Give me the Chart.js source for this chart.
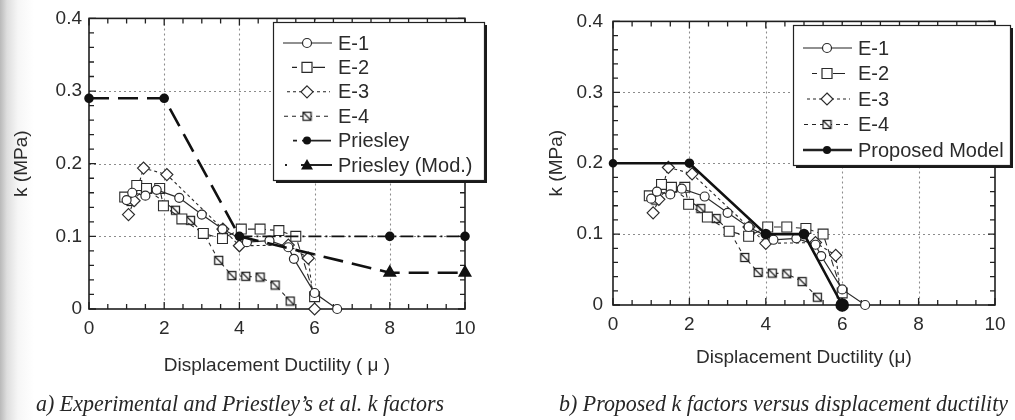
<!DOCTYPE html>
<html><head><meta charset="utf-8">
<script src="https://cdn.jsdelivr.net/npm/chart.js@4.4.1/dist/chart.umd.min.js"></script>
<style>
html,body{margin:0;padding:0;width:1015px;height:420px;overflow:hidden;}
body{background:linear-gradient(to right,#b9b9b9 0px,#dedede 7px,#f6f6f6 18px,#ffffff 34px);position:relative;}
#a{position:absolute;left:0;top:0;}
#b{position:absolute;left:510px;top:0;}
.cap{position:absolute;top:389px;font-family:"Liberation Serif","Times New Roman",serif;font-style:italic;font-size:24px;line-height:28px;color:#262626;white-space:nowrap;transform-origin:left top;}
</style></head><body>
<canvas id="a" width="510" height="420"></canvas>
<canvas id="b" width="505" height="420"></canvas>
<div class="cap" id="capA" style="left:36px;">a) Experimental and Priestley’s et al. k factors</div>
<div class="cap" id="capB" style="left:559px;">b) Proposed k factors versus displacement ductility</div>
<script>
// ---------- data ----------
const mu_E1 = [1.0, 1.15, 1.5, 1.8, 2.4, 3.0, 3.55, 4.2, 4.8, 5.3, 5.45, 6.0, 6.6];
const k_E1  = [0.150, 0.160, 0.156, 0.164, 0.153, 0.130, 0.110, 0.092, 0.094, 0.085, 0.069, 0.022, 0.0];
const mu_E2 = [0.95, 1.27, 1.53, 1.88, 1.98, 2.47, 3.04, 3.55, 4.05, 4.55, 5.05, 5.5, 6.0];
const k_E2  = [0.154, 0.170, 0.166, 0.166, 0.142, 0.124, 0.104, 0.097, 0.110, 0.110, 0.108, 0.100, 0.017];
const mu_E3 = [1.05, 1.2, 1.45, 2.07, 3.56, 4.0, 5.3, 5.83, 6.0];
const k_E3  = [0.130, 0.149, 0.194, 0.185, 0.110, 0.087, 0.088, 0.070, 0.0];
const mu_E4 = [1.12, 1.5, 2.3, 2.7, 3.05, 3.45, 3.8, 4.17, 4.55, 4.95, 5.35];
const k_E4  = [0.148, 0.166, 0.136, 0.122, 0.104, 0.067, 0.046, 0.045, 0.044, 0.033, 0.011];
const mu_Pr = [0, 2, 4, 8, 10];
const k_Pr  = [0.29, 0.29, 0.10, 0.10, 0.10];
const mu_PrMod = [0, 2, 4, 8, 10];
const k_PrMod  = [0.29, 0.29, 0.10, 0.05, 0.05];
const mu_Prop = [0, 2, 4, 5, 6];
const k_Prop  = [0.20, 0.20, 0.10, 0.10, 0.0];

const xTickValues = [0, 2, 4, 6, 8, 10];
const xTickLabels = ['0', '2', '4', '6', '8', '10'];
const yTickValues = [0, 0.1, 0.2, 0.3, 0.4];
const yTickLabels = ['0', '0.1', '0.2', '0.3', '0.4'];
const xGridValues = [2, 4, 6, 8];
const yGridValues = [0.1, 0.2, 0.3];

const labelsA = ['E-1', 'E-2', 'E-3', 'E-4', 'Priesley', 'Priesley (Mod.)'];
const labelsB = ['E-1', 'E-2', 'E-3', 'E-4', 'Proposed Model'];
const xTitleA = 'Displacement Ductility ( μ )';
const xTitleB = 'Displacement Ductility (μ)';
const yTitle = 'k (MPa)';

// ---------- styling ----------
const INK = '#2b2b2b';
const SANS = '"Liberation Sans", Arial, Helvetica, sans-serif';
Chart.defaults.font.family = SANS;
Chart.defaults.color = INK;

function hatchImage(){
  const c = document.createElement('canvas'); c.width = 11; c.height = 11;
  const g = c.getContext('2d');
  g.fillStyle = '#fff'; g.fillRect(1,1,9,9);
  g.strokeStyle = '#222'; g.lineWidth = 1.3;
  g.strokeRect(1.5,1.5,8,8);
  g.beginPath(); g.moveTo(2,2); g.lineTo(9,9); g.stroke();
  return c;
}
const HATCH = hatchImage();

const pts = (xs, ys) => xs.map((x, i) => ({x, y: ys[i]}));

function expDatasets(){
  return [
    {label:'E-1', data:pts(mu_E1,k_E1), borderColor:INK, borderWidth:1.2, pointStyle:'circle', pointRadius:4.5,
     pointBackgroundColor:'#fff', pointBorderColor:INK, pointBorderWidth:1.2},
    {label:'E-2', data:pts(mu_E2,k_E2), borderColor:INK, borderWidth:1.1, borderDash:[7,4], pointStyle:'rect', pointRadius:7,
     pointBackgroundColor:'#fff', pointBorderColor:INK, pointBorderWidth:1.1},
    {label:'E-3', data:pts(mu_E3,k_E3), borderColor:INK, borderWidth:1.1, borderDash:[3,3], pointStyle:'rectRot', pointRadius:6,
     pointBackgroundColor:'#fff', pointBorderColor:INK, pointBorderWidth:1.2},
    {label:'E-4', data:pts(mu_E4,k_E4), borderColor:INK, borderWidth:1.1, borderDash:[4,4], pointStyle:HATCH, pointRadius:5,
     pointBackgroundColor:'#fff', pointBorderColor:INK},
  ];
}

const dsA = expDatasets().concat([
  {label:'Priesley', data:pts(mu_Pr,k_Pr), borderColor:'#111', borderWidth:1.6, borderDash:[13,4,2,4], order:-1,
   segment:{borderColor: c => c.p0DataIndex < 2 ? 'rgba(0,0,0,0)' : '#111'},
   pointStyle:'circle', pointRadius:4, pointBackgroundColor:'#111', pointBorderColor:'#111'},
  {label:'Priesley (Mod.)', data:pts(mu_PrMod,k_PrMod), borderColor:'#111', borderWidth:2.6, borderDash:[20,9], order:-1,
   pointStyle:'triangle', pointRadius:[0,0,0,5.5,5.5], pointBackgroundColor:'#111', pointBorderColor:'#111'}
]);
const dsB = expDatasets().concat([
  {label:'Proposed Model', data:pts(mu_Prop,k_Prop), borderColor:'#111', borderWidth:2.6, order:-1,
   pointStyle:'circle', pointRadius:[3,3.5,4,4,5.5], pointBackgroundColor:'#111', pointBorderColor:'#111'}
]);
[dsA, dsB].forEach(a => a.forEach(d => { d.showLine = true; d.clip = false; d.fill = false; }));

// legend sample styles
const legendStyle = {
  'E-1': {dash:[], w:1.2, marker:'circle', fill:'#fff', x0:0, x1:49},
  'E-2': {dash:[5,16,12,100], w:1.1, marker:'rect', fill:'#fff', x0:9, x1:43},
  'E-3': {dash:[3,3], w:1.1, marker:'diamond', fill:'#fff', x0:4, x1:47},
  'E-4': {dash:[4,4], w:1.1, marker:'hatch', fill:'#fff', x0:1, x1:47},
  'Priesley': {dash:[4,5,60,0], w:1.8, marker:'dot', fill:'#111', x0:10, x1:48},
  'Priesley (Mod.)': {dash:[2,14,60,0], w:2, marker:'triangle', fill:'#111', x0:2, x1:49},
  'Proposed Model': {dash:[], w:2.4, marker:'dot', fill:'#111', x0:0, x1:49},
};

function drawMarker(ctx, m, x, y, fill){
  ctx.save(); ctx.setLineDash([]); ctx.lineWidth = 1.2; ctx.strokeStyle = INK; ctx.fillStyle = fill;
  ctx.beginPath();
  if (m === 'circle') { ctx.arc(x, y, 4.5, 0, Math.PI*2); ctx.fill(); ctx.stroke(); }
  else if (m === 'rect') { ctx.rect(x-5, y-5, 10, 10); ctx.fill(); ctx.stroke(); }
  else if (m === 'diamond') { ctx.moveTo(x, y-6); ctx.lineTo(x+6, y); ctx.lineTo(x, y+6); ctx.lineTo(x-6, y); ctx.closePath(); ctx.fill(); ctx.stroke(); }
  else if (m === 'hatch') { ctx.drawImage(HATCH, x-5.5, y-5.5); }
  else if (m === 'dot') { ctx.fillStyle = '#111'; ctx.arc(x, y, 4, 0, Math.PI*2); ctx.fill(); }
  else if (m === 'triangle') { ctx.fillStyle = '#111'; ctx.moveTo(x, y-6); ctx.lineTo(x+6, y+4.5); ctx.lineTo(x-6, y+4.5); ctx.closePath(); ctx.fill(); }
  ctx.restore();
}

const framePlugin = {
  id: 'frame',
  beforeDatasetsDraw(chart) {
    const {ctx, chartArea: a, scales: {x, y}} = chart;
    ctx.save();
    ctx.strokeStyle = '#8c8c8c'; ctx.lineWidth = 1.1; ctx.setLineDash([2, 3]);
    xGridValues.forEach(v => { const p = Math.round(x.getPixelForValue(v)) + 0.5; ctx.beginPath(); ctx.moveTo(p, a.top); ctx.lineTo(p, a.bottom); ctx.stroke(); });
    yGridValues.forEach(v => { const p = Math.round(y.getPixelForValue(v)) + 0.5; ctx.beginPath(); ctx.moveTo(a.left, p); ctx.lineTo(a.right, p); ctx.stroke(); });
    ctx.setLineDash([]);
    ctx.strokeStyle = '#222'; ctx.lineWidth = 1.3;
    for (let i = 0; i <= 20; i++) {
      const v = i * 0.5, p = x.getPixelForValue(v), L = (i % 4 === 0) ? 7 : 5;
      ctx.beginPath(); ctx.moveTo(p, a.bottom); ctx.lineTo(p, a.bottom - L); ctx.moveTo(p, a.top); ctx.lineTo(p, a.top + L); ctx.stroke();
    }
    for (let i = 0; i <= 20; i++) {
      const v = i * 0.02, p = y.getPixelForValue(v), L = (i % 5 === 0) ? 7 : 5;
      ctx.beginPath(); ctx.moveTo(a.left, p); ctx.lineTo(a.left + L, p); ctx.moveTo(a.right, p); ctx.lineTo(a.right - L, p); ctx.stroke();
    }
    ctx.lineWidth = 1.6; ctx.strokeStyle = '#1e1e1e';
    ctx.strokeRect(a.left, a.top, a.right - a.left, a.bottom - a.top);
    ctx.restore();
  },
  afterDraw(chart) {
    const o = chart.options.plugins.boxLegend; if (!o) return;
    const {ctx} = chart;
    ctx.save();
    ctx.fillStyle = '#1a1a1a'; ctx.fillRect(o.left + 3, o.top + 3, o.width, o.height);
    ctx.fillStyle = '#fff'; ctx.fillRect(o.left, o.top, o.width, o.height);
    ctx.strokeStyle = '#222'; ctx.lineWidth = 1.2; ctx.strokeRect(o.left + 0.5, o.top + 0.5, o.width, o.height);
    ctx.font = '20px ' + SANS; ctx.textBaseline = 'middle'; ctx.fillStyle = INK;
    o.labels.forEach((lab, i) => {
      const st = legendStyle[lab], yy = o.top + o.first + i * o.step, bx = o.left + 10;
      ctx.save(); ctx.strokeStyle = '#222'; ctx.lineWidth = st.w; ctx.setLineDash(st.dash);
      ctx.beginPath(); ctx.moveTo(bx + st.x0, yy); ctx.lineTo(bx + st.x1, yy); ctx.stroke(); ctx.restore();
      drawMarker(ctx, st.marker, bx + 24, yy, st.fill);
      ctx.fillStyle = INK; ctx.fillText(lab, o.left + 65, yy + 1);
    });
    ctx.restore();
  }
};

function makeChart(id, datasets, opts){
  return new Chart(document.getElementById(id), {
    type: 'scatter',
    data: {datasets},
    plugins: [framePlugin],
    options: {
      responsive: false, animation: false, devicePixelRatio: 1,
      layout: {padding: {left: opts.padLeft, right: opts.padRight, top: opts.padTop, bottom: opts.padBottom}},
      plugins: {legend: {display: false}, tooltip: {enabled: false}, boxLegend: opts.legend},
      scales: {
        x: {type: 'linear', min: 0, max: 10,
            afterBuildTicks: s => { s.ticks = xTickValues.map(v => ({value: v})); },
            afterFit: s => { s.height = opts.xAxisH; },
            ticks: {callback: (v, i) => xTickLabels[i], font: {size: 19}, color: INK, padding: 8, maxRotation: 0, autoSkip: false},
            grid: {display: false, drawTicks: false}, border: {display: false},
            title: {display: true, text: opts.xTitle, font: {size: 19}, color: INK, padding: {top: 4, bottom: 4}}},
        y: {type: 'linear', min: 0, max: 0.4,
            afterBuildTicks: s => { s.ticks = yTickValues.map(v => ({value: v})); },
            afterFit: s => { s.width = opts.yAxisW; },
            ticks: {callback: (v, i) => yTickLabels[i], font: {size: 19}, color: INK, padding: opts.yTickPad, autoSkip: false},
            grid: {display: false, drawTicks: false}, border: {display: false},
            title: {display: true, text: yTitle, font: {size: 19}, color: INK, padding: {top: 4, bottom: 4}}}
      }
    }
  });
}

makeChart('a', dsA, {padLeft: 6, padRight: 45, padTop: 17, padBottom: 39, xAxisH: 72, yAxisW: 83, yTickPad: 7, xTitle: xTitleA,
  legend: {left: 273, top: 22, width: 211, height: 158, first: 21, step: 24.4, labels: labelsA}});
makeChart('b', dsB, {padLeft: 31, padRight: 20, padTop: 17, padBottom: 47, xAxisH: 68, yAxisW: 72, yTickPad: 10, xTitle: xTitleB,
  legend: {left: 283, top: 25, width: 217, height: 140, first: 23, step: 25.5, labels: labelsB}});

// captions: same font and the same horizontal condensing for both
const capA = document.getElementById('capA'), capB = document.getElementById('capB');
const sx = 449 / capB.offsetWidth;
[capA, capB].forEach(el => { el.style.transform = 'scaleX(' + sx + ')'; });
</script>
</body></html>
